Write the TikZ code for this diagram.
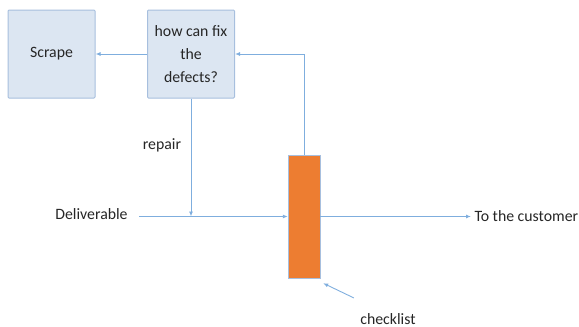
\documentclass[tikz,border=0pt]{standalone}
\usepackage{fontspec}
\setmainfont{Carlito}
\usetikzlibrary{arrows.meta, calc}

\definecolor{boxfill}{HTML}{DCE6F2}
\definecolor{boxline}{HTML}{A7BFDE}
\definecolor{flowline}{HTML}{7FAEDE}
\definecolor{barfill}{HTML}{ED7D31}

\begin{document}
\begin{tikzpicture}[x=1pt, y=-1pt,
    every node/.style={font=\fontsize{15.8}{19}\selectfont, text=black!85},
    stepbox/.style={draw=boxline, fill=boxfill, line width=1pt, rounded corners=1pt,
        minimum width=87pt, minimum height=88pt, align=center, inner sep=2pt,
        font=\fontsize{15.8}{23}\selectfont},
    flow/.style={draw=flowline, line width=0.9pt, -{Latex[length=5pt, width=4pt]}}]

    \useasboundingbox (0,0) rectangle (579,327);

    % Draw the two boxes at the top
    \node[stepbox] (scrape) at (51.5,54) {Scrape};
    \node[stepbox] (fix) at (191,54) {how can fix\\the\\defects?};

    % Draw the checklist bar
    \node[draw=boxline, fill=barfill, minimum width=32pt, minimum height=123pt, inner sep=0pt] (bar) at (304,216.5) {};

    % Label the flow
    \node (deliv) at (91.5,214) {Deliverable};
    \node (repair) at (162,145) {repair};
    \node[anchor=west] (cust) at (471,216.5) {To the customer};
    \node (check) at (388,319) {checklist};
    \coordinate (start) at ($(deliv.east)+(8,0)$);
    \coordinate (join) at (fix.south |- bar.west);

    % Draw the connectors
    \draw[flow] (fix.west) -- (scrape.east);
    \draw[flow] (bar.north) |- (fix.east);
    \draw[flow] (fix.south) -- (join);
    \draw[flow] (start |- bar.west) -- (bar.west);
    \draw[flow] (bar.east) -- (bar.east -| cust.west);
    \draw[flow] ($(check.north west)+(-3,-12)$) -- ($(bar.south east)+(3,5)$);

\end{tikzpicture}
\end{document}
